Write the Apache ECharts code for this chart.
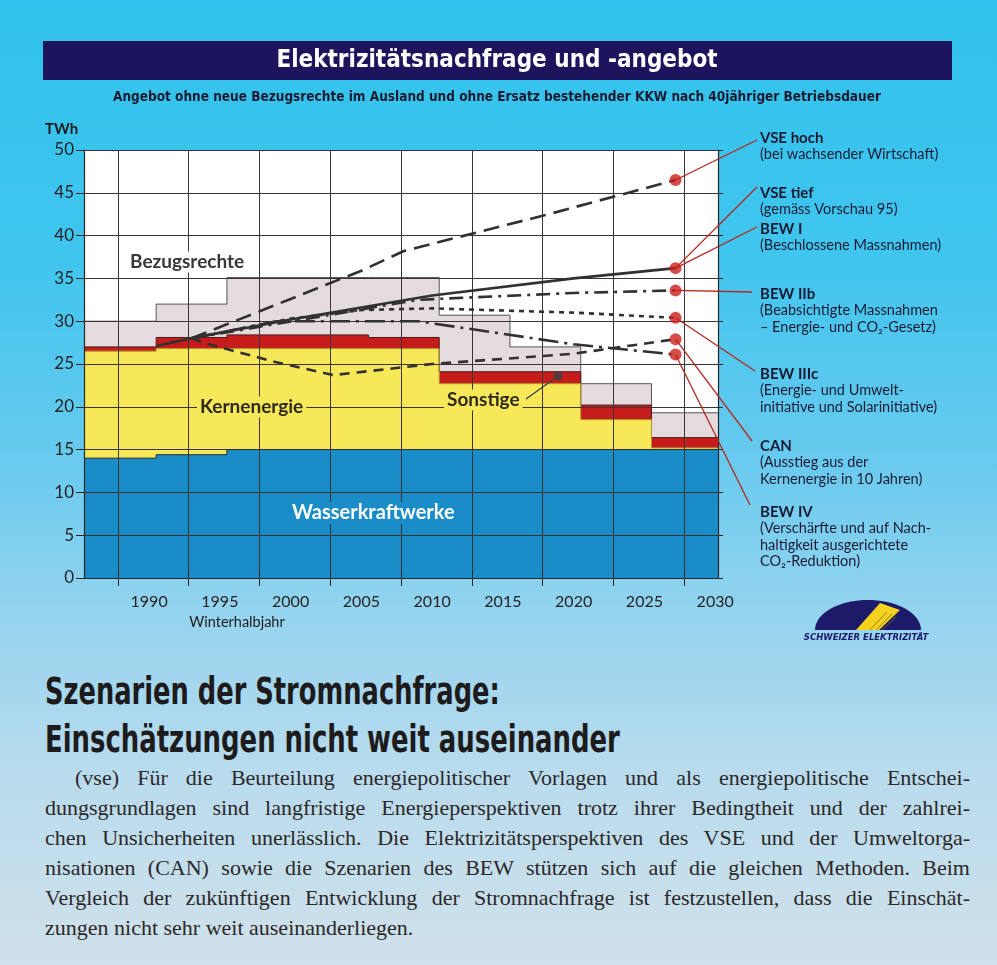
<!DOCTYPE html>
<html>
<head>
<meta charset="utf-8">
<title>Elektrizitätsnachfrage und -angebot</title>
<script src="https://cdn.jsdelivr.net/npm/echarts@6.0.0/dist/echarts.min.js"></script>
<style>
  html, body { margin: 0; padding: 0; }
  body {
    width: 997px; height: 965px; overflow: hidden; position: relative;
    background: linear-gradient(to bottom, #30c2ec 0px, #40c5ee 260px, #68caee 460px, #96d4ef 620px, #b8dbed 770px, #d0e1ea 965px);
  }
  #chart { position: absolute; left: 0; top: 0; width: 997px; height: 660px; }
  #article { position: absolute; left: 45px; top: 668px; width: 925px; color: #1d1b1c; }
  .hrow { height: 48px; line-height: 48px; white-space: nowrap; }
  .head { display: inline-block; font-family: "DejaVu Sans Condensed", "Liberation Sans Narrow", sans-serif; font-weight: bold; font-size: 37px; transform-origin: 0 50%; }
  .txt { position: absolute; top: 95px; left: 0; width: 925px; font-family: "Liberation Serif", "DejaVu Serif", serif; font-size: 22px; color: #2b2829; }
  .ln { height: 30px; line-height: 30px; text-align: justify; text-align-last: justify; }
  .ln.first { padding-left: 30px; }
  .ln.last { text-align-last: left; }
</style>
</head>
<body>
<div id="chart"></div>
<div id="article">
  <div class="hrow"><span class="head" data-w="455">Szenarien der Stromnachfrage:</span></div>
  <div class="hrow"><span class="head" data-w="575">Einschätzungen nicht weit auseinander</span></div>
  <div class="txt">
    <div class="ln first">(vse) Für die Beurteilung energiepolitischer Vorlagen und als energiepolitische Entschei-</div>
    <div class="ln">dungsgrundlagen sind langfristige Energieperspektiven trotz ihrer Bedingtheit und der zahlrei-</div>
    <div class="ln">chen Unsicherheiten unerlässlich. Die Elektrizitätsperspektiven des VSE und der Umweltorga-</div>
    <div class="ln">nisationen (CAN) sowie die Szenarien des BEW stützen sich auf die gleichen Methoden. Beim</div>
    <div class="ln">Vergleich der zukünftigen Entwicklung der Stromnachfrage ist festzustellen, dass die Einschät-</div>
    <div class="ln last">zungen nicht sehr weit auseinanderliegen.</div>
  </div>
</div>
<script>
// Angebot (TWh), Stufen je Winterhalbjahr
var stepYears    = [1985.4, 1990.5, 1995.5, 2005.5, 2010.5, 2015.5, 2020.5, 2025.5, 2030.2];
var wasserkraft  = [14.0, 14.4, 15.0, 15.0, 15.0, 15.0, 15.0, 15.0, 15.0];
var kernenergie  = [12.5, 12.4, 11.8, 11.8, 7.7, 7.7, 3.5, 0.2, 0.2];
var sonstige     = [0.5, 1.3, 1.6, 1.3, 1.4, 1.4, 1.7, 1.2, 1.2];
var bezugsrechte = [3.0, 3.9, 6.7, 7.0, 6.6, 2.9, 2.5, 2.9, 2.9];

// Nachfrage-Szenarien [Jahr, TWh]
var vseHoch = [[1993, 28.0], [2000, 32.6], [2005, 35.9], [2008, 38.2], [2018, 42.4], [2027.2, 46.5]];
var vseTief = [[1990.5, 27.1], [1993, 28.0], [2000, 30.2], [2010, 33.0], [2020, 35.0], [2027.2, 36.2]];
var bewIIb  = [[1993, 28.0], [2003, 30.8], [2009, 32.5], [2020, 33.3], [2027.2, 33.6]];
var bewIIIc = [[1993, 28.0], [2000, 30.3], [2005, 31.3], [2010, 31.5], [2020, 31.0], [2027.2, 30.4]];
var can     = [[1993, 28.0], [1994, 27.4], [1999, 25.2], [2003, 23.7], [2010, 25.0], [2020, 26.2], [2027.2, 27.9]];
var bewIV   = [[1993, 28.0], [1999, 30.0], [2009, 30.0], [2020, 27.3], [2027.2, 26.1]];
var sonstigeMarker = [2018.9, 23.6];

var tickYears = [1990, 1995, 2000, 2005, 2010, 2015, 2020, 2025, 2030];
var gridYears = [1987.8, 1992.8, 1997.8, 2002.8, 2007.8, 2012.8, 2017.8, 2022.8, 2027.8];

var rightLabels = [
    { name: 'VSE hoch', text: ['(bei wachsender Wirtschaft)'], y: 138, anchor: [757, 140], line: vseHoch },
    { name: 'VSE tief', text: ['(gemäss Vorschau 95)'], y: 193, anchor: [757, 187], line: vseTief },
    { name: 'BEW I', text: ['(Beschlossene Massnahmen)'], y: 229, anchor: [757, 227], line: vseTief },
    { name: 'BEW IIb', text: ['(Beabsichtigte Massnahmen', '– Energie- und CO₂-Gesetz)'], y: 294, anchor: [752, 292], line: bewIIb },
    { name: 'BEW IIIc', text: ['(Energie- und Umwelt-', 'initiative und Solarinitiative)'], y: 374, anchor: [755, 371], line: bewIIIc },
    { name: 'CAN', text: ['(Ausstieg aus der', 'Kernenergie in 10 Jahren)'], y: 446, anchor: [752, 441], line: can },
    { name: 'BEW IV', text: ['(Verschärfte und auf Nach-', 'haltigkeit ausgerichtete', 'CO₂-Reduktion)'], y: 512, anchor: [750, 505], line: bewIV }
];

var ink = '#2b2626';
var font = 'Lato, "Open Sans", sans-serif';

function cumulate(layers) {
    var run = stepYears.map(function () { return 0; });
    return layers.map(function (l) {
        run = run.map(function (v, i) { return Math.round((v + l[i]) * 100) / 100; });
        return run;
    });
}
var tops = cumulate([wasserkraft, kernenergie, sonstige, bezugsrechte]);

function stepArea(name, top, fill, edge) {
    return {
        name: name, type: 'line', step: 'end', symbol: 'none', silent: true, z: 2,
        data: stepYears.map(function (x, i) { return [x, top[i]]; }),
        lineStyle: { color: edge, width: 1 },
        areaStyle: { color: fill, opacity: 1 }
    };
}

function scenario(name, data, dash) {
    return {
        name: name, type: 'line', symbol: 'none', silent: true, z: 4, data: data,
        lineStyle: { color: '#333030', width: 2.6, type: dash }
    };
}

var scenarios = [vseHoch, vseTief, bewIIb, bewIIIc, can, bewIV];
var endDots = scenarios.map(function (s) { return s[s.length - 1]; });

var chart = echarts.init(document.getElementById('chart'));
chart.setOption({
    backgroundColor: 'transparent',
    animation: false,
    grid: { left: 84, top: 150, width: 634, height: 428, show: true, backgroundColor: '#ffffff', borderWidth: 0 },
    xAxis: [{
        type: 'value', position: 'bottom', min: 1985.4, max: 2030.2, z: 3,
        axisLine: { show: true, lineStyle: { color: ink, width: 1.2 } },
        axisTick: { show: true, customValues: gridYears, length: 8, lineStyle: { color: ink } },
        axisLabel: {
            customValues: tickYears, fontSize: 16, color: '#262222', margin: 16, fontFamily: font,
            formatter: function (v) { return String(Math.round(v)); }
        },
        splitLine: { show: true, lineStyle: { color: '#3a3434', width: 1 } }
    }, {
        type: 'value', position: 'top', min: 1985.4, max: 2030.2, z: 3,
        axisLine: { show: true, lineStyle: { color: ink, width: 1.2 } },
        axisTick: { show: true, customValues: gridYears, length: 8, lineStyle: { color: ink } },
        axisLabel: { show: false },
        splitLine: { show: false }
    }],
    yAxis: [{
        type: 'value', min: 0, max: 50, interval: 5, z: 3,
        axisLine: { show: true, lineStyle: { color: ink, width: 1.2 } },
        axisTick: { show: true, length: 8, lineStyle: { color: ink } },
        axisLabel: { fontSize: 17, color: '#262222', margin: 10, fontFamily: font },
        splitLine: { show: true, lineStyle: { color: '#3a3434', width: 1 } }
    }, {
        type: 'value', position: 'right', min: 0, max: 50, interval: 5, z: 3,
        axisLine: { show: true, lineStyle: { color: ink, width: 1.2 } },
        axisTick: { show: true, length: 5, lineStyle: { color: ink } },
        axisLabel: { show: false },
        splitLine: { show: false }
    }],
    series: [
        stepArea('Bezugsrechte', tops[3], '#e4dbde', '#5a5256'),
        stepArea('Sonstige', tops[2], '#c61c1c', '#4a1c1c'),
        stepArea('Kernenergie', tops[1], '#f6e858', '#b09a30'),
        stepArea('Wasserkraftwerke', tops[0], '#1a8cc8', '#1c2a3a'),
        scenario('VSE hoch', vseHoch, [16, 8]),
        scenario('VSE tief / BEW I', vseTief, 'solid'),
        scenario('BEW IIb', bewIIb, [14, 6, 3, 6]),
        scenario('BEW IIIc', bewIIIc, [5, 5]),
        scenario('CAN', can, [10, 7]),
        scenario('BEW IV', bewIV, [20, 6, 3, 6]),
        { type: 'scatter', silent: true, z: 6, data: endDots, symbolSize: 12, itemStyle: { color: '#cc1f1a' } },
        { type: 'scatter', silent: true, z: 6, data: [sonstigeMarker], symbolSize: 9, itemStyle: { color: '#3c4246' } }
    ]
});

var g = [];
// Titelbalken
g.push({ type: 'rect', z: 10, shape: { x: 43, y: 41, width: 909, height: 39 }, style: { fill: '#1c145c' } });
g.push({ type: 'text', z: 11, x: 497, y: 61, style: {
    text: 'Elektrizitätsnachfrage und -angebot', fill: '#ffffff', align: 'center', verticalAlign: 'middle',
    font: 'bold 24px "DejaVu Sans Condensed", sans-serif' } });
g.push({ type: 'text', z: 11, x: 497, y: 97, style: {
    text: 'Angebot ohne neue Bezugsrechte im Ausland und ohne Ersatz bestehender KKW nach 40jähriger Betriebsdauer',
    fill: '#1b1a30', align: 'center', verticalAlign: 'middle', font: 'bold 13.5px "DejaVu Sans Condensed", sans-serif' } });
g.push({ type: 'text', z: 11, x: 45, y: 129, style: { text: 'TWh', fill: '#1e1c1c', verticalAlign: 'middle', font: 'bold 15px ' + font } });
g.push({ type: 'text', z: 11, x: 237, y: 622, style: { text: 'Winterhalbjahr', fill: '#1e1c1c', align: 'center', verticalAlign: 'middle', font: '14.5px ' + font } });

// Flächenbeschriftungen
function areaLabel(text, x, y, fill, bg, size) {
    g.push({ type: 'text', z: 11, x: x, y: y, style: {
        text: text, fill: fill, verticalAlign: 'middle', backgroundColor: bg, padding: [1, 3],
        font: 'bold ' + size + 'px ' + font } });
}
areaLabel('Bezugsrechte', 127, 262, '#3a3536', '#ffffff', 19);
areaLabel('Kernenergie', 197, 407, '#2e2a22', '#f6e858', 19);
areaLabel('Sonstige', 444, 400, '#2e2a22', '#f6e858', 19);
areaLabel('Wasserkraftwerke', 289, 513, '#ffffff', '#1a8cc8', 20);
var sp = chart.convertToPixel({ gridIndex: 0 }, sonstigeMarker);
g.push({ type: 'line', z: 5, shape: { x1: 526, y1: 399, x2: sp[0], y2: sp[1] }, style: { stroke: '#3c4246', lineWidth: 1.3 } });

// Szenario-Legende rechts
rightLabels.forEach(function (lab) {
    var end = lab.line[lab.line.length - 1];
    var p = chart.convertToPixel({ gridIndex: 0 }, end);
    g.push({ type: 'line', z: 5, shape: { x1: p[0], y1: p[1], x2: lab.anchor[0], y2: lab.anchor[1] }, style: { stroke: '#b3261e', lineWidth: 1.3 } });
    var txt = '{b|' + lab.name + '}';
    lab.text.forEach(function (t) { txt += '\n{n|' + t + '}'; });
    g.push({ type: 'text', z: 11, x: 760, y: lab.y - 8, style: {
        text: txt, verticalAlign: 'top', fill: '#1a1a33',
        rich: {
            b: { fontFamily: font, fontWeight: 'bold', fontSize: 15, lineHeight: 16.5, fill: '#1a1a33' },
            n: { fontFamily: font, fontSize: 14.5, lineHeight: 16.5, fill: '#1a1a33' }
        } } });
});

// Logo: Halbkuppel mit gelbem Streifen
var dome = [];
for (var i = 0; i <= 36; i++) {
    var a = Math.PI * i / 36;
    dome.push([868 - 53 * Math.cos(a), 630 - 30 * Math.sin(a)]);
}
g.push({ type: 'polygon', z: 10, shape: { points: dome }, style: { fill: '#1e1a6a' } });
g.push({ type: 'polygon', z: 11, shape: { points: [[880, 603], [900, 610], [879, 630], [856, 630]] }, style: { fill: '#f4d21e' } });
[[870, 630, 887, 612], [876, 630, 892, 614], [882, 630, 896, 617]].forEach(function (l) {
    g.push({ type: 'line', z: 12, shape: { x1: l[0], y1: l[1], x2: l[2], y2: l[3] }, style: { stroke: '#7a6a20', lineWidth: 0.8 } });
});
g.push({ type: 'text', z: 11, x: 866, y: 638, style: {
    text: 'SCHWEIZER ELEKTRIZITÄT', fill: '#1e1a6a', align: 'center', verticalAlign: 'middle',
    font: 'italic bold 8.5px "DejaVu Sans", sans-serif' } });

chart.setOption({ graphic: g });

// Überschriften auf Satzbreite bringen
Array.prototype.forEach.call(document.querySelectorAll('.head'), function (el) {
    var w = +el.getAttribute('data-w');
    el.style.transform = 'scaleX(' + (w / el.offsetWidth) + ')';
});
</script>
</body>
</html>
